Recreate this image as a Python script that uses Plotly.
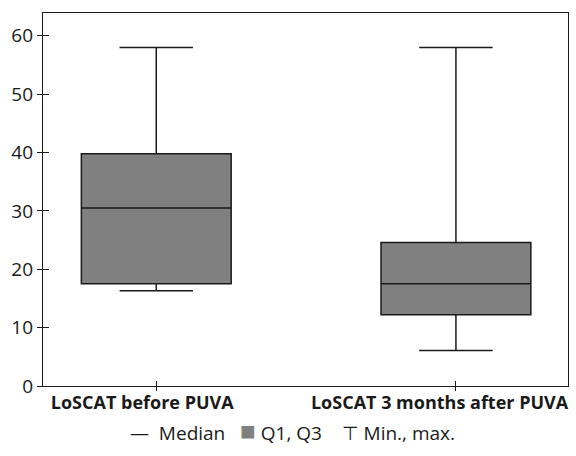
import plotly.graph_objects as go

categories = ["LoSCAT before PUVA", "LoSCAT 3 months after PUVA"]
minimum = [16.3, 6.1]
q1 = [17.5, 12.2]
median = [30.5, 17.5]
q3 = [39.8, 24.6]
maximum = [58.0, 58.0]
y_ticks = [0, 10, 20, 30, 40, 50, 60]
label_pad = [6, 7]  # trailing spaces nudging each category label left

FONT = "Open Sans"
fig = go.Figure()
for i, cat in enumerate(categories):
    fig.add_trace(go.Box(
        x=[i], q1=[q1[i]], median=[median[i]], q3=[q3[i]],
        lowerfence=[minimum[i]], upperfence=[maximum[i]],
        name=cat, width=0.5, whiskerwidth=0.49,
        fillcolor="#808080", line=dict(color="#1a1a1a", width=1.5),
        boxpoints=False, showlegend=False, hoverinfo="skip",
    ))

xrange = [-0.378, 1.374]
yrange = [0, 63.9]
fig.update_layout(
    width=576, height=456,
    margin=dict(l=43, r=8, t=13, b=70),
    plot_bgcolor="white", paper_bgcolor="white",
    font=dict(family=FONT, size=16, color="#1a1a1a"),
    xaxis=dict(range=xrange, tickvals=[0, 1],
               ticktext=["<b>" + c + "</b>" + "&nbsp;" * p
                         for c, p in zip(categories, label_pad)],
               showline=True, linecolor="#1a1a1a", linewidth=1.3, mirror=True,
               ticks="outside", ticklen=4, tickcolor="#1a1a1a",
               showgrid=False, zeroline=False, tickfont=dict(size=18),
               automargin=False, ticklabelstandoff=-4, ticklabeloverflow="allow"),
    yaxis=dict(range=yrange, tickvals=y_ticks,
               showline=True, linecolor="#1a1a1a", linewidth=1.3, mirror=True,
               ticks="outside", ticklen=5, tickcolor="#1a1a1a",
               showgrid=False, zeroline=False, tickfont=dict(size=19),
               automargin=False, ticklabeloverflow="allow"),
    xaxis2=dict(range=xrange, overlaying="x", tickvals=[0, 1], showticklabels=False,
                ticks="inside", ticklen=5, tickcolor="#1a1a1a", showgrid=False,
                zeroline=False, side="bottom", automargin=False),
    yaxis2=dict(range=yrange, overlaying="y", tickvals=y_ticks, showticklabels=False,
                ticks="inside", ticklen=6, tickcolor="#1a1a1a", showgrid=False,
                zeroline=False, side="left", automargin=False),
)
fig.add_trace(go.Scatter(x=[None], y=[None], xaxis="x2", yaxis="y2",
                         showlegend=False, hoverinfo="skip"))

fig.add_annotation(
    xref="paper", yref="paper", x=0.475, y=-0.118, showarrow=False,
    xanchor="center", yanchor="middle",
    text=("—&nbsp;&nbsp;Median&nbsp;&nbsp;&nbsp;"
          "<span style='color:#808080;font-size:26px'>■</span>&nbsp;Q1, Q3"
          "&nbsp;&nbsp;&nbsp;&nbsp;⊤&nbsp;Min., max."),
    font=dict(family=FONT, size=19, color="#1a1a1a"),
)

fig.write_html("out.html", config={"displayModeBar": False},
               post_script="document.body.style.margin='0';document.body.style.overflow='hidden';")
